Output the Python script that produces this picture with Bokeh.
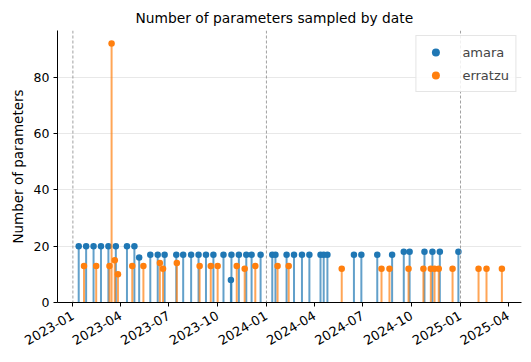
import math
import pandas as pd
from bokeh.plotting import figure
from bokeh.models import (Span, Range1d, FixedTicker, Legend, LegendItem,
                          ColumnDataSource, DatetimeTickFormatter)
from bokeh.embed import file_html
from bokeh.resources import INLINE

# ---------------- data ----------------
amara_dates = [
    "2023-01-12", "2023-01-26", "2023-02-09", "2023-02-23", "2023-03-09", "2023-03-23",
    "2023-04-13", "2023-04-27", "2023-05-06", "2023-05-27", "2023-06-10", "2023-06-23",
    "2023-07-15", "2023-07-28", "2023-08-12", "2023-08-26", "2023-09-09", "2023-09-23",
    "2023-10-12", "2023-10-26", "2023-10-27", "2023-11-10", "2023-11-24", "2023-12-04",
    "2023-12-21", "2024-01-12", "2024-01-18", "2024-02-08", "2024-02-22", "2024-03-08",
    "2024-03-22", "2024-04-12", "2024-04-18", "2024-04-25", "2024-06-14", "2024-06-28",
    "2024-07-28", "2024-08-25", "2024-09-16", "2024-09-27", "2024-10-25", "2024-11-09",
    "2024-11-23", "2024-12-28",
]
amara_values = [
    20, 20, 20, 20, 20, 20,
    20, 20, 16, 17, 17, 17,
    17, 17, 17, 17, 17, 17,
    17, 8, 17, 17, 17, 17,
    17, 17, 17, 17, 17, 17,
    17, 17, 17, 17, 17, 17,
    17, 17, 18, 18, 18, 18,
    18, 18,
]
erratzu_dates = [
    "2023-01-22", "2023-02-14", "2023-03-11", "2023-03-15", "2023-03-21", "2023-03-27",
    "2023-04-23", "2023-05-14", "2023-06-14", "2023-06-20", "2023-07-16", "2023-08-28",
    "2023-09-18", "2023-10-01", "2023-11-06", "2023-11-21", "2023-12-11", "2024-01-22",
    "2024-02-12", "2024-05-22", "2024-08-05", "2024-08-20", "2024-09-25", "2024-10-23",
    "2024-11-06", "2024-11-13", "2024-11-21", "2024-12-17", "2025-02-04", "2025-02-19",
    "2025-03-20",
]
erratzu_values = [
    13, 13, 13, 92, 15, 10,
    13, 13, 14, 12, 14, 13,
    13, 13, 13, 12, 13, 13,
    13, 12, 12, 12, 12, 12,
    12, 12, 12, 12, 12, 12,
    12,
]
year_marks = ["2023-01-01", "2024-01-01", "2025-01-01"]
x_tick_labels = ["2023-01", "2023-04", "2023-07", "2023-10", "2024-01",
                 "2024-04", "2024-07", "2024-10", "2025-01", "2025-04"]
y_ticks = [0, 20, 40, 60, 80]
series_names = ["amara", "erratzu"]

BLUE = "#1f77b4"
ORANGE = "#ff7f0e"
FONT = "DejaVu Sans"


def ms(s):
    return pd.Timestamp(s).value / 1e6


p = figure(
    width=531, height=362,
    x_axis_type="datetime",
    output_backend="svg", toolbar_location=None,
    title="Number of parameters sampled by date",
    min_border_left=57, min_border_right=10, min_border_top=30, min_border_bottom=60,
)
p.x_range = Range1d(ms("2022-12-03"), ms("2025-04-26"))
p.y_range = Range1d(0, 96.6)

p.title.align = "left"
p.title.offset = 78
p.title.text_font = FONT
p.title.text_font_size = "13.8px"
p.title.text_font_style = "normal"
p.title.text_color = "black"

p.outline_line_color = None
p.background_fill_color = "white"
p.border_fill_color = "white"

p.xgrid.visible = False
p.ygrid.grid_line_color = "#e8e8e8"
p.ygrid.grid_line_width = 1

for d in year_marks:
    p.add_layout(Span(location=ms(d), dimension="height", line_color="#888888",
                      line_width=0.8, line_dash="3 2"))

src_a = ColumnDataSource(dict(date=[pd.Timestamp(d) for d in amara_dates], value=amara_values))
src_e = ColumnDataSource(dict(date=[pd.Timestamp(d) for d in erratzu_dates], value=erratzu_values))

p.segment(x0="date", y0=0, x1="date", y1="value", source=src_a,
          line_color=BLUE, line_width=2, line_alpha=0.7)
ra = p.scatter(x="date", y="value", source=src_a, size=6.5,
               fill_color=BLUE, line_color=BLUE, line_width=0)
p.segment(x0="date", y0=0, x1="date", y1="value", source=src_e,
          line_color=ORANGE, line_width=2, line_alpha=0.7)
re_ = p.scatter(x="date", y="value", source=src_e, size=6.5,
                fill_color=ORANGE, line_color=ORANGE, line_width=0)

# axes
p.xaxis.ticker = FixedTicker(ticks=[ms(t + "-01") for t in x_tick_labels])
fmt = "%Y-%m"
p.xaxis.formatter = DatetimeTickFormatter(
    years=fmt, months=fmt, days=fmt, hours=fmt, minutes=fmt, seconds=fmt,
    milliseconds=fmt, microseconds=fmt, hourmin=fmt, minsec=fmt)
p.xaxis.major_label_orientation = math.pi / 6
p.yaxis.ticker = FixedTicker(ticks=y_ticks)
p.yaxis.axis_label = "Number of parameters"

for ax in (p.xaxis[0], p.yaxis[0]):
    ax.axis_line_color = "black"
    ax.axis_line_width = 1
    ax.major_tick_line_color = "black"
    ax.major_tick_out = 4
    ax.major_tick_in = 0
    ax.minor_tick_line_color = None
    ax.major_label_text_font = FONT
    ax.major_label_text_font_size = "12.5px"
    ax.major_label_text_color = "black"
    ax.axis_label_text_font = FONT
    ax.axis_label_text_font_size = "13.5px"
    ax.axis_label_text_font_style = "normal"
    ax.axis_label_text_color = "black"
    ax.major_label_standoff = 4
p.xaxis.major_label_text_font_size = "13px"
p.xaxis.major_label_standoff = 8

legend = Legend(items=[LegendItem(label=series_names[0], renderers=[ra]),
                       LegendItem(label=series_names[1], renderers=[re_])],
                location="top_right")
legend.label_text_font = FONT
legend.label_text_font_size = "13px"
legend.padding = 6
legend.glyph_width = 26
legend.label_standoff = 14
legend.label_height = 18
legend.spacing = 3
legend.margin = 5
legend.border_line_color = "#cccccc"
legend.border_line_width = 1
legend.background_fill_alpha = 0.85
p.add_layout(legend)

open("out.html", "w").write(file_html(p, INLINE))
